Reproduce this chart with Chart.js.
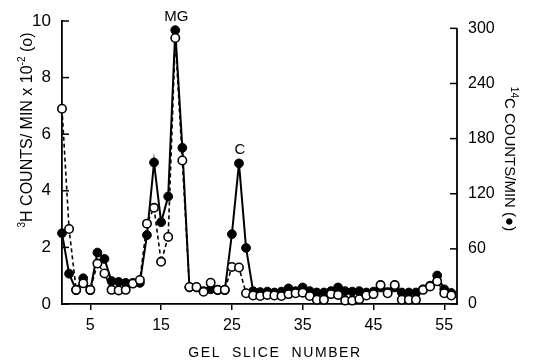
<!DOCTYPE html>
<html>
<head>
<meta charset="utf-8">
<script src="https://cdn.jsdelivr.net/npm/chart.js@4.4.1/dist/chart.umd.min.js"></script>
<style>
html,body{margin:0;padding:0;background:#fff;}
canvas{display:block;}
</style>
</head>
<body>
<canvas id="c" width="534" height="361"></canvas>
<script>
// Gel slice numbers (categories)
const slices = [1,2,3,4,5,6,7,8,9,10,11,12,13,14,15,16,17,18,19,20,21,22,23,24,25,26,27,28,29,30,31,32,33,34,35,36,37,38,39,40,41,42,43,44,45,46,47,48,49,50,51,52,53,54,55,56];
// 3H counts/min x 10^-2 (open circles, left axis)
const h3 = [6.9,2.65,0.5,0.73,0.5,1.43,1.08,0.5,0.48,0.5,0.72,0.85,2.84,3.4,1.49,2.37,9.4,5.07,0.6,0.6,0.43,0.75,0.5,0.5,1.31,1.29,0.38,0.3,0.28,0.32,0.3,0.28,0.35,0.38,0.4,0.28,0.15,0.15,0.35,0.32,0.12,0.12,0.17,0.3,0.35,0.67,0.38,0.67,0.15,0.15,0.15,0.5,0.62,0.8,0.38,0.3];
// 14C counts/min (filled circles, right axis)
const c14 = [77,33,15,28,15,56,49,25,24,23,23,23,75,154,89,117,298,170,18,18,14,16,15,15,76,153,61,14,13,13.5,12.5,13.5,17,14,18,14,12.5,12.5,14,18,14,13.5,14,12.5,13.5,18,13,18,12.5,12.5,12.5,16,20,31,16,12];
// Tick labels
const xTicks = [5,15,25,35,45,55];
const leftTicks = [0,2,4,6,8,10];
const rightTicks = [0,60,120,180,240,300];
// Peak labels
const peakLabels = [{slice:17, text:'MG'}, {slice:26, text:'C'}];

const FONT = '"Liberation Sans", Arial, Helvetica, sans-serif';

function drawRich(ctx, segs, x, y, angle, size){
  ctx.save();
  ctx.translate(x, y);
  ctx.rotate(angle);
  ctx.textBaseline = 'alphabetic';
  ctx.textAlign = 'left';
  let total = 0;
  const ws = segs.map(s => {
    ctx.font = (s.sup ? Math.round(size*0.65) : size) + 'px ' + FONT;
    const w = ctx.measureText(s.t).width;
    total += w;
    return w;
  });
  let cx = -total/2;
  segs.forEach((s,i) => {
    ctx.font = (s.sup ? Math.round(size*0.65) : size) + 'px ' + FONT;
    ctx.fillText(s.t, cx, s.sup ? -size*0.42 : 0);
    cx += ws[i];
  });
  ctx.restore();
}

const decor = {
  id: 'decor',
  afterDraw(chart){
    const ctx = chart.ctx;
    const y = chart.scales.y, y2 = chart.scales.y2, x = chart.scales.x;
    ctx.save();
    ctx.strokeStyle = '#000';
    ctx.fillStyle = '#000';
    // right axis line (0..300)
    ctx.lineWidth = 1.8;
    ctx.beginPath();
    ctx.moveTo(y2.left, y2.getPixelForValue(300));
    ctx.lineTo(y2.left, y2.getPixelForValue(0) + 1);
    ctx.stroke();
    // inward ticks
    ctx.lineWidth = 1.5;
    leftTicks.forEach(v => {
      const py = y.getPixelForValue(v);
      ctx.beginPath(); ctx.moveTo(y.right, py); ctx.lineTo(y.right + 7, py); ctx.stroke();
    });
    rightTicks.forEach(v => {
      const py = y2.getPixelForValue(v);
      ctx.beginPath(); ctx.moveTo(y2.left, py); ctx.lineTo(y2.left - 7, py); ctx.stroke();
    });
    // peak labels
    ctx.font = '15px ' + FONT;
    ctx.textAlign = 'center';
    ctx.textBaseline = 'alphabetic';
    peakLabels.forEach(p => {
      const i = slices.indexOf(p.slice);
      const px = x.getPixelForValue(p.slice);
      const py = y2.getPixelForValue(c14[i]);
      ctx.fillText(p.text, px + 1, py - 9);
    });
    // x title
    ctx.font = '14px ' + FONT;
    try { ctx.letterSpacing = '1.6px'; } catch(e) {}
    ctx.fillText('GEL  SLICE  NUMBER', 275, 357);
    try { ctx.letterSpacing = '0px'; } catch(e) {}
    // y titles
    drawRich(ctx, [{t:'3',sup:true},{t:'H COUNTS/ MIN x 10'},{t:'-2',sup:true},{t:' (o)'}], 32, 130, -Math.PI/2, 16);
    drawRich(ctx, [{t:'14',sup:true},{t:'C COUNTS/MIN ('},{t:'\u25CF'},{t:')'}], 505, 159, Math.PI/2, 15);
    ctx.restore();
  }
};

new Chart(document.getElementById('c'), {
  type: 'line',
  data: {
    datasets: [
      {
        label: '3H',
        data: slices.map((s,i) => ({x:s, y:h3[i]})),
        yAxisID: 'y',
        borderColor: '#000',
        borderWidth: 1.6,
        borderDash: [4,3],
        pointRadius: 4.2,
        pointBorderWidth: 1.6,
        pointBackgroundColor: '#fff',
        pointBorderColor: '#000',
        tension: 0,
        clip: false,
        order: 0
      },
      {
        label: '14C',
        data: slices.map((s,i) => ({x:s, y:c14[i]})),
        yAxisID: 'y2',
        borderColor: '#000',
        borderWidth: 2,
        pointRadius: 4.4,
        pointBorderWidth: 1,
        pointBackgroundColor: '#000',
        pointBorderColor: '#000',
        tension: 0,
        clip: false,
        order: 1
      }
    ]
  },
  options: {
    responsive: false,
    animation: false,
    devicePixelRatio: 1,
    layout: { padding: { top: 21, left: 0, right: 0, bottom: 0 } },
    plugins: { legend: { display: false }, tooltip: { enabled: false } },
    scales: {
      x: {
        type: 'linear',
        min: 1, max: 56.8,
        afterBuildTicks: s => { s.ticks = xTicks.map(v => ({value: v})); },
        afterFit: s => { s.height = 57; },
        grid: { drawOnChartArea: false, drawTicks: true, tickLength: 6, color: '#000', lineWidth: 1.5 },
        border: { display: true, color: '#000', width: 1.8 },
        ticks: { color: '#000', font: { family: FONT, size: 16 }, padding: 6, maxRotation: 0 }
      },
      y: {
        position: 'left',
        min: 0, max: 10,
        afterBuildTicks: s => { s.ticks = leftTicks.map(v => ({value: v})); },
        afterFit: s => { s.width = 62; },
        grid: { display: false },
        border: { display: true, color: '#000', width: 1.8 },
        ticks: { color: '#000', font: { family: FONT, size: 17 }, padding: 3 }
      },
      y2: {
        position: 'right',
        min: 0, max: 308,
        afterBuildTicks: s => { s.ticks = rightTicks.map(v => ({value: v})); },
        afterFit: s => { s.width = 77; },
        grid: { display: false },
        border: { display: false },
        ticks: { color: '#000', font: { family: FONT, size: 16 }, padding: 3 }
      }
    }
  },
  plugins: [decor]
});
</script>
</body>
</html>
